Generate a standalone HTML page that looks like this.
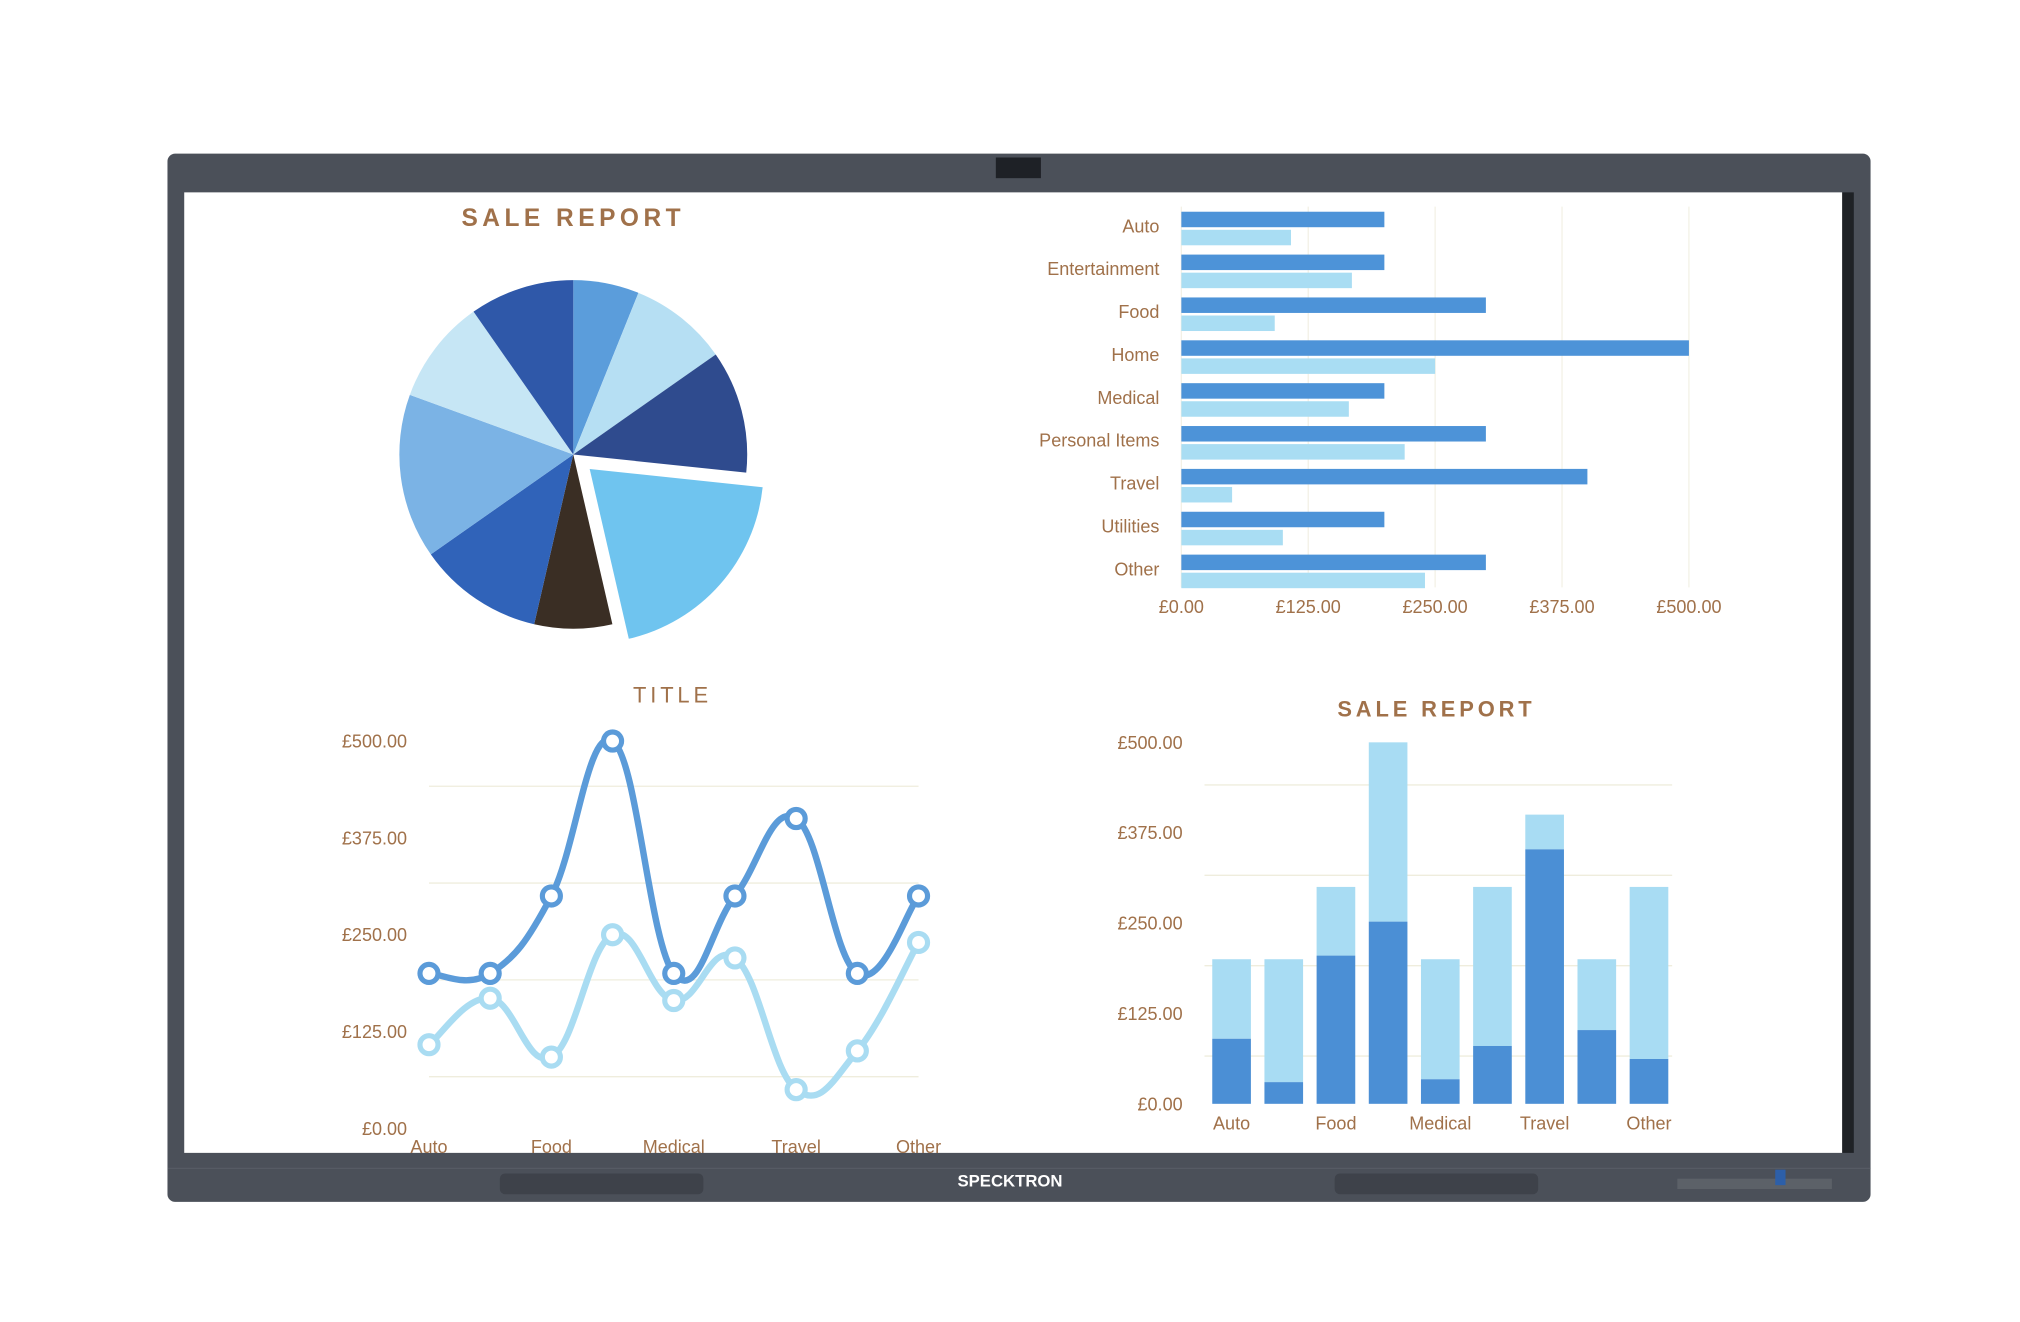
<!DOCTYPE html>
<html><head><meta charset="utf-8"><style>
html,body{margin:0;padding:0;background:#fff;width:2020px;height:1322px;overflow:hidden}
svg{display:block}
text{font-family:"Liberation Sans",sans-serif;fill:#a0714a}
</style></head><body>
<svg id="s" width="2020" height="1322" viewBox="0 0 1568 1024" preserveAspectRatio="none" xmlns="http://www.w3.org/2000/svg">
<rect x="130" y="119" width="1322" height="812" rx="6" fill="#4b5059"/>
<rect x="773" y="122" width="35" height="16" fill="#1e2126"/>
<rect x="143" y="149" width="1287" height="744" fill="#ffffff"/>
<rect x="1430" y="149" width="9" height="744" fill="#1f2226"/>
<line x1="130" y1="905" x2="1452" y2="905" stroke="#565b64" stroke-width="1"/>
<rect x="388" y="909" width="158" height="16" rx="4" fill="#3e424a"/>
<rect x="1036" y="909" width="158" height="16" rx="4" fill="#3e424a"/>
<text x="784" y="919" text-anchor="middle" font-size="13" font-weight="bold" style="fill:#fff">SPECKTRON</text>
<rect x="1302" y="913" width="120" height="8" fill="#5c6168"/>
<rect x="1378" y="906" width="8" height="12" fill="#2d5fa8"/>
<g id="pie"></g>
<text x="445" y="175" text-anchor="middle" font-size="19" font-weight="bold" letter-spacing="3.5">SALE REPORT</text>
<g id="hbar"></g>
<g id="line"></g>
<text x="522" y="544" text-anchor="middle" font-size="17" letter-spacing="3">TITLE</text>
<g id="col"></g>
<text x="1115" y="555" text-anchor="middle" font-size="17" font-weight="bold" letter-spacing="3">SALE REPORT</text>
</svg>
<script>
const categories=["Auto","Entertainment","Food","Home","Medical","Personal Items","Travel","Utilities","Other"];
const series1=[200,200,300,500,200,300,400,200,300];
const series2=[108,168,92,250,165,220,50,100,240];
const colDark=[90,30,205,252,34,80,352,102,62];
const colTotal=[200,200,300,500,200,300,400,200,300];
const pieValues=[22,33,41,71,26,42,55,35,35];
const pieColors=["#5b9ddb","#b6dff3","#2f4b8e","#6fc4ef","#3a2e24","#3063b9","#7bb3e5","#c6e6f5","#2f58a9"];
const ticks=[0,125,250,375,500];
const tickLabels=["£0.00","£125.00","£250.00","£375.00","£500.00"];
const NS="http://www.w3.org/2000/svg";
function mk(p,t,a){const e=document.createElementNS(NS,t);for(const k in a)e.setAttribute(k,a[k]);p.appendChild(e);return e;}
// PIE
(function(){const g=document.getElementById('pie');const cx=445,cy=352,r=135;const tot=pieValues.reduce((a,b)=>a+b,0);let a0=0;
pieValues.forEach((v,i)=>{const a1=a0+v/tot*2*Math.PI;let ox=0,oy=0;if(i===3){const m=(a0+a1)/2;ox=Math.sin(m)*17;oy=-Math.cos(m)*17;}
const x0=cx+ox+r*Math.sin(a0),y0=cy+oy-r*Math.cos(a0),x1=cx+ox+r*Math.sin(a1),y1=cy+oy-r*Math.cos(a1);
const p=mk(g,'path',{d:`M${cx+ox},${cy+oy}L${x0},${y0}A${r},${r} 0 ${a1-a0>Math.PI?1:0} 1 ${x1},${y1}Z`,fill:pieColors[i]});


a0=a1;});})();
// HBAR
(function(){const g=document.getElementById('hbar');const x=v=>917+v/500*394;const y0=175,step=33.2;
ticks.forEach((t,i)=>{mk(g,'line',{x1:x(t),y1:160,x2:x(t),y2:455,stroke:'#f3f1e6','stroke-width':1});
const tx=mk(g,'text',{x:x(t),y:475,'text-anchor':'middle','font-size':14});tx.textContent=tickLabels[i];

});
categories.forEach((c,i)=>{const cy=y0+i*step;
const l=mk(g,'text',{x:900,y:cy+5,'text-anchor':'end','font-size':14});l.textContent=c;


const b1=mk(g,'rect',{x:x(0),y:cy-11,width:x(series1[i])-x(0),height:12,fill:'#4d93d8'});


const b2=mk(g,'rect',{x:x(0),y:cy+3,width:x(series2[i])-x(0),height:12,fill:'#a9ddf3'});

});})();
// LINE
(function(){const g=document.getElementById('line');const y=v=>874-v/125*75;const x=i=>333+i*47.5;
ticks.forEach((t,i)=>{if(t>0)mk(g,'line',{x1:333,y1:y(t)+35,x2:713,y2:y(t)+35,stroke:'#efeddd','stroke-width':1});
const tx=mk(g,'text',{x:316,y:y(t)+5,'text-anchor':'end','font-size':14});tx.textContent=tickLabels[i];

});
categories.forEach((c,i)=>{if(i%2)return;const tx=mk(g,'text',{x:x(i),y:893,'text-anchor':'middle','font-size':14});tx.textContent=c;

});
function path(vals){const P=vals.map((v,i)=>[x(i),y(v)]);let d=`M${P[0][0]},${P[0][1]}`;
for(let i=0;i<P.length-1;i++){const p0=P[i-1]||P[i],p1=P[i],p2=P[i+1],p3=P[i+2]||p2;const k=0.2;
d+=`C${p1[0]+(p2[0]-p0[0])*k},${p1[1]+(p2[1]-p0[1])*k} ${p2[0]-(p3[0]-p1[0])*k},${p2[1]-(p3[1]-p1[1])*k} ${p2[0]},${p2[1]}`;}return d;}
[[series2,'#a9dcf2','series2'],[series1,'#5b9bd9','series1']].forEach(([vals,col,n])=>{
const p=mk(g,'path',{d:path(vals),fill:'none',stroke:col,'stroke-width':5});


vals.forEach((v,i)=>{const c=mk(g,'circle',{cx:x(i),cy:y(v),r:7,fill:'#fff',stroke:col,'stroke-width':4});

});});})();
// COLUMNS
(function(){const g=document.getElementById('col');const y=v=>855-v/125*70;const x=i=>956+i*40.5;
ticks.forEach((t,i)=>{if(t>0)mk(g,'line',{x1:935,y1:y(t)+33,x2:1298,y2:y(t)+33,stroke:'#efeddd','stroke-width':1});
const tx=mk(g,'text',{x:918,y:y(t)+5,'text-anchor':'end','font-size':14});tx.textContent=tickLabels[i];

});
categories.forEach((c,i)=>{const w=30;
const l=mk(g,'rect',{x:x(i)-w/2,y:y(colTotal[i]),width:w,height:y(colDark[i])-y(colTotal[i]),fill:'#a8dcf3'});


const d=mk(g,'rect',{x:x(i)-w/2,y:y(colDark[i]),width:w,height:y(0)-y(colDark[i]),fill:'#4b8fd5'});


if(i%2===0){const tx=mk(g,'text',{x:x(i),y:875,'text-anchor':'middle','font-size':14});tx.textContent=c;

}});})();
</script>
</body></html>
